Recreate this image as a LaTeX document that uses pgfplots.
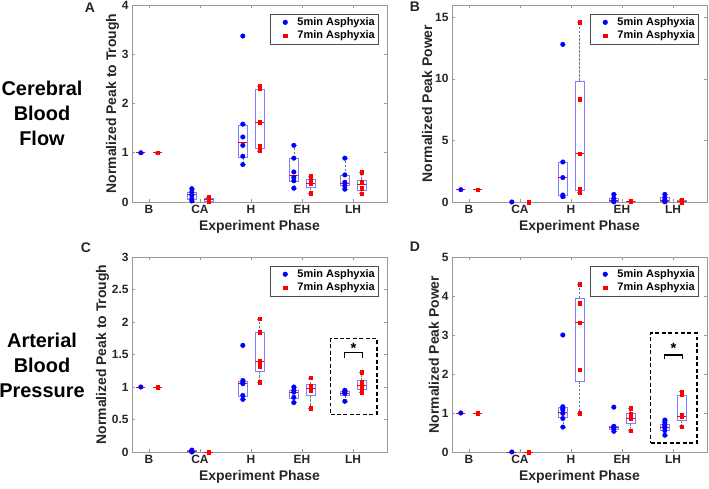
\documentclass[border=0pt]{standalone}
\usepackage{fontspec}
\setmainfont{Liberation Sans}
\usepackage{pgfplots}
\pgfplotsset{compat=1.18}
\usepgfplotslibrary{statistics}

% box: position, lower whisker, lower quartile, median, upper quartile, upper whisker
\newcommand{\bx}[6]{%
  \addplot[forget plot, draw=blue!50, line width=0.6pt,
    boxplot prepared={draw position=#1, lower whisker=#2, lower quartile=#3,
      median=#4, upper quartile=#5, upper whisker=#6}] coordinates {};}

\pgfplotsset{
  panel/.style={
    scale only axis, width=255bp, height=197bp,
    xmin=0.667, xmax=5.667,
    xtick={1,2,3,4,5}, xticklabels={B,CA,H,EH,LH},
    tick align=inside, major tick length=3pt,
    axis line style={black!40, line width=0.5pt},
    tick style={black!40, line width=0.5pt},
    ticklabel style={font=\bfseries\fontsize{12}{14}\selectfont, text=black!85},
    label style={font=\bfseries\fontsize{14}{16}\selectfont, text=black!85},
    ylabel shift=-4bp,
    /pgf/number format/assume math mode=true,
    xlabel={Experiment Phase},
    legend style={at={(axis description cs:0.965,0.955)}, anchor=north east,
      draw=black!70, line width=0.5pt, inner xsep=1pt, inner ysep=1.5pt,
      font=\bfseries\fontsize{11}{13}\selectfont},
    legend cell align=left,
    legend image code/.code={\path (0bp,0bp) (24bp,0bp);
      \draw[##1] plot coordinates {(14bp,0bp)};},
    boxplot/draw direction=y,
    boxplot/box extend=0.18,
    boxplot/whisker extend=0.09,
    boxplot/every median/.style={draw=red, line width=0.6pt, solid},
    boxplot/every whisker/.style={draw=black!55, line width=0.4pt, dash pattern=on 2.5pt off 1.5pt},
  },
  bluepts/.style={only marks, mark=*, mark size=2.3pt, color=blue},
  redpts/.style={only marks, mark=square*, mark size=1.8pt, color=red},
  frame/.style={forget plot, black, line width=1.4pt, dash pattern=on 4pt off 2.5pt},
  brack/.style={forget plot, black, line width=1.5pt},
}

\begin{document}
\begin{tikzpicture}
\useasboundingbox (0,0) rectangle (709bp,489bp);

% ---------- A: cerebral, peak to trough
\begin{axis}[panel, at={(132bp,287bp)}, anchor=south west,
  ymin=0, ymax=4, ytick={0,1,2,3,4}, ylabel={Normalized Peak to Trough}]
\bx{0.84}{1}{1}{1}{1}{1}
\bx{1.84}{0.02}{0.05}{0.15}{0.20}{0.27}
\bx{2.84}{0.76}{0.91}{1.22}{1.56}{1.58}
\bx{3.84}{0.28}{0.43}{0.55}{0.89}{1.15}
\bx{4.84}{0.26}{0.33}{0.38}{0.54}{0.89}
\bx{1.17}{1}{1}{1}{1}{1}
\bx{2.17}{0.01}{0.02}{0.05}{0.07}{0.10}
\bx{3.17}{1.04}{1.10}{1.62}{2.28}{2.36}
\bx{4.17}{0.18}{0.29}{0.37}{0.47}{0.52}
\bx{5.17}{0.17}{0.24}{0.36}{0.45}{0.60}
\addplot[bluepts] coordinates {
  (0.84,1)
  (1.84,0.27) (1.84,0.20) (1.84,0.135) (1.84,0.07) (1.84,0.02)
  (2.84,3.37) (2.84,1.58) (2.84,1.32) (2.84,1.15) (2.84,0.93) (2.84,0.76)
  (3.84,1.15) (3.84,0.89) (3.84,0.61) (3.84,0.50) (3.84,0.43) (3.84,0.28)
  (4.84,0.89) (4.84,0.55) (4.84,0.40) (4.84,0.33) (4.84,0.26)};
\addplot[redpts] coordinates {
  (1.17,1)
  (2.17,0.10) (2.17,0.07) (2.17,0.03) (2.17,0.02)
  (3.17,2.36) (3.17,2.30) (3.17,1.62) (3.17,1.13) (3.17,1.04)
  (4.17,0.52) (4.17,0.44) (4.17,0.37) (4.17,0.18)
  (5.17,0.60) (5.17,0.40) (5.17,0.28) (5.17,0.17)};
\legend{5min Asphyxia, 7min Asphyxia}
\end{axis}

% ---------- B: cerebral, peak power
\begin{axis}[panel, at={(452bp,287bp)}, anchor=south west,
  ymin=0, ymax=16, ytick={0,5,10,15}, ylabel={Normalized Peak Power}]
\bx{0.84}{1}{1}{1}{1}{1}
\bx{1.84}{0}{0}{0}{0}{0}
\bx{2.84}{0.43}{0.54}{1.98}{3.25}{3.25}
\bx{3.84}{0.02}{0.05}{0.14}{0.30}{0.62}
\bx{4.84}{0.02}{0.04}{0.16}{0.35}{0.62}
\bx{1.17}{1}{1}{1}{1}{1}
\bx{2.17}{0}{0}{0}{0}{0}
\bx{3.17}{0.81}{0.95}{3.93}{9.84}{14.6}
\bx{4.17}{0.02}{0.02}{0.05}{0.08}{0.10}
\bx{5.17}{0}{0.01}{0.05}{0.14}{0.20}
\addplot[bluepts] coordinates {
  (0.84,1) (1.84,0)
  (2.84,12.8) (2.84,3.25) (2.84,1.98) (2.84,0.57) (2.84,0.43)
  (3.84,0.62) (3.84,0.30) (3.84,0.14) (3.84,0.05) (3.84,0.02)
  (4.84,0.62) (4.84,0.35) (4.84,0.16) (4.84,0.05) (4.84,0.02)};
\addplot[redpts] coordinates {
  (1.17,1) (2.17,0)
  (3.17,14.6) (3.17,8.35) (3.17,3.93) (3.17,1.03) (3.17,0.81)
  (4.17,0.10) (4.17,0.06) (4.17,0.03) (4.17,0.02)
  (5.17,0.20) (5.17,0.08) (5.17,0.02) (5.17,0.0)};
\legend{5min Asphyxia, 7min Asphyxia}
\end{axis}

% ---------- C: arterial, peak to trough
\begin{axis}[panel, height=195bp, at={(132bp,37bp)}, anchor=south west,
  ymin=0, ymax=3, ytick={0,0.5,1,1.5,2,2.5,3}, ylabel={Normalized Peak to Trough}]
\bx{0.84}{1}{1}{1}{1}{1}
\bx{1.84}{0}{0.005}{0.015}{0.025}{0.03}
\bx{2.84}{0.81}{0.86}{1.06}{1.09}{1.10}
\bx{3.84}{0.76}{0.82}{0.92}{0.95}{1.00}
\bx{4.84}{0.78}{0.87}{0.91}{0.94}{0.95}
\bx{1.17}{1}{1}{1}{1}{1}
\bx{2.17}{0}{0}{0}{0}{0}
\bx{3.17}{1.07}{1.24}{1.40}{1.84}{2.05}
\bx{4.17}{0.67}{0.87}{0.98}{1.04}{1.14}
\bx{5.17}{0.92}{0.96}{1.03}{1.10}{1.23}
\addplot[bluepts] coordinates {
  (0.84,1)
  (1.84,0.03) (1.84,0.02) (1.84,0.01) (1.84,0.0)
  (2.84,1.64) (2.84,1.10) (2.84,1.07) (2.84,1.05) (2.84,0.87) (2.84,0.81)
  (3.84,1.00) (3.84,0.95) (3.84,0.92) (3.84,0.84) (3.84,0.76)
  (4.84,0.95) (4.84,0.93) (4.84,0.91) (4.84,0.90) (4.84,0.78)};
\addplot[redpts] coordinates {
  (1.17,1) (2.17,0)
  (3.17,2.05) (3.17,1.84) (3.17,1.40) (3.17,1.32) (3.17,1.07)
  (4.17,1.14) (4.17,1.02) (4.17,0.98) (4.17,0.95) (4.17,0.67)
  (5.17,1.23) (5.17,1.08) (5.17,1.02) (5.17,0.98) (5.17,0.92)};
\addplot[frame] coordinates {(4.56,0.58) (5.47,0.58) (5.47,1.75) (4.56,1.75) (4.56,0.58)};
\addplot[brack] coordinates {(4.83,1.44) (4.83,1.53) (5.19,1.53) (5.19,1.44)};
\node[font=\bfseries\fontsize{15}{15}\selectfont] at (axis cs:5.01,1.60) {*};
\legend{5min Asphyxia, 7min Asphyxia}
\end{axis}

% ---------- D: arterial, peak power
\begin{axis}[panel, height=195bp, at={(452bp,37bp)}, anchor=south west,
  ymin=0, ymax=5, ytick={0,1,2,3,4,5}, ylabel={Normalized Peak Power}]
\bx{0.84}{1}{1}{1}{1}{1}
\bx{1.84}{0}{0}{0}{0}{0}
\bx{2.84}{0.64}{0.88}{1.02}{1.14}{1.16}
\bx{3.84}{0.53}{0.58}{0.63}{0.67}{0.67}
\bx{4.84}{0.43}{0.56}{0.64}{0.72}{0.82}
\bx{1.17}{1}{1}{1}{1}{1}
\bx{2.17}{0}{0}{0}{0}{0}
\bx{3.17}{0.99}{1.82}{3.32}{3.94}{4.30}
\bx{4.17}{0.55}{0.74}{0.86}{0.99}{1.12}
\bx{5.17}{0.65}{0.82}{0.92}{1.46}{1.55}
\addplot[bluepts] coordinates {
  (0.84,1) (1.84,0)
  (2.84,3.0) (2.84,1.16) (2.84,1.12) (2.84,1.08) (2.84,0.99) (2.84,0.86) (2.84,0.64)
  (3.84,1.15) (3.84,0.66) (3.84,0.63) (3.84,0.60) (3.84,0.53)
  (4.84,0.82) (4.84,0.76) (4.84,0.70) (4.84,0.66) (4.84,0.62) (4.84,0.55) (4.84,0.43)};
\addplot[redpts] coordinates {
  (1.17,1) (2.17,0)
  (3.17,4.30) (3.17,3.81) (3.17,3.32) (3.17,2.11) (3.17,0.99)
  (4.17,1.12) (4.17,0.97) (4.17,0.90) (4.17,0.86) (4.17,0.55)
  (5.17,1.55) (5.17,1.47) (5.17,0.95) (5.17,0.90) (5.17,0.65)};
\addplot[frame] coordinates {(4.56,0.23) (5.47,0.23) (5.47,3.05) (4.56,3.05) (4.56,0.23)};
\addplot[brack] coordinates {(4.83,2.38) (4.83,2.49) (5.19,2.49) (5.19,2.38)};
\node[font=\bfseries\fontsize{15}{15}\selectfont] at (axis cs:5.01,2.66) {*};
\legend{5min Asphyxia, 7min Asphyxia}
\end{axis}

% panel letters and row titles
\begin{scope}[every node/.style={font=\bfseries\fontsize{14}{14}\selectfont, text=black!85}]
\node at (90bp,481bp) {A};
\node at (415bp,482bp) {B};
\node at (86bp,241bp) {C};
\node at (415bp,242bp) {D};
\end{scope}
\node[align=center, font=\bfseries\fontsize{20}{25}\selectfont] at (42bp,376bp) {Cerebral\\Blood\\Flow};
\node[align=center, font=\bfseries\fontsize{20}{25}\selectfont] at (42bp,124bp) {Arterial\\Blood\\Pressure};
\end{tikzpicture}
\end{document}
